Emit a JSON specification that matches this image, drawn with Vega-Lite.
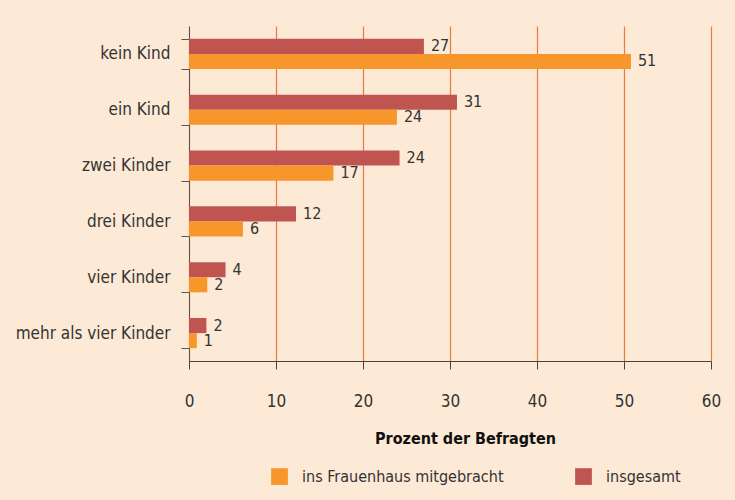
{
  "$schema": "https://vega.github.io/schema/vega-lite/v6.json",
  "width": 522,
  "height": 335,
  "autosize": {"type": "none"},
  "padding": {"left": 189, "top": 26, "right": 24, "bottom": 139},
  "background": "#FCE9D6",
  "config": {
    "font": "DejaVu Sans Condensed",
    "view": {"stroke": null},
    "axis": {"labelFont": "DejaVu Sans Condensed", "titleFont": "DejaVu Sans Condensed"},
    "legend": {"labelFont": "DejaVu Sans Condensed"}
  },
  "data": {
    "values": [
      {"Kinder": "kein Kind", "Serie": "insgesamt", "Wert": 27.0, "Label": "27"},
      {"Kinder": "kein Kind", "Serie": "ins Frauenhaus mitgebracht", "Wert": 50.8, "Label": "51"},
      {"Kinder": "ein Kind", "Serie": "insgesamt", "Wert": 30.8, "Label": "31"},
      {"Kinder": "ein Kind", "Serie": "ins Frauenhaus mitgebracht", "Wert": 23.9, "Label": "24"},
      {"Kinder": "zwei Kinder", "Serie": "insgesamt", "Wert": 24.2, "Label": "24"},
      {"Kinder": "zwei Kinder", "Serie": "ins Frauenhaus mitgebracht", "Wert": 16.6, "Label": "17"},
      {"Kinder": "drei Kinder", "Serie": "insgesamt", "Wert": 12.3, "Label": "12"},
      {"Kinder": "drei Kinder", "Serie": "ins Frauenhaus mitgebracht", "Wert": 6.2, "Label": "6"},
      {"Kinder": "vier Kinder", "Serie": "insgesamt", "Wert": 4.2, "Label": "4"},
      {"Kinder": "vier Kinder", "Serie": "ins Frauenhaus mitgebracht", "Wert": 2.1, "Label": "2"},
      {"Kinder": "mehr als vier Kinder", "Serie": "insgesamt", "Wert": 2.0, "Label": "2"},
      {"Kinder": "mehr als vier Kinder", "Serie": "ins Frauenhaus mitgebracht", "Wert": 0.9, "Label": "1"}
    ]
  },
  "encoding": {
    "y": {
      "field": "Kinder",
      "type": "nominal",
      "sort": ["kein Kind", "ein Kind", "zwei Kinder", "drei Kinder", "vier Kinder", "mehr als vier Kinder"],
      "scale": {"paddingInner": 0.46, "paddingOuter": 0.23},
      "axis": {
        "title": null,
        "tickBand": "extent",
        "tickSize": 8,
        "tickColor": "#555555",
        "domainColor": "#555555",
        "labelFontSize": 17,
        "labelColor": "#333333",
        "labelPadding": 11,
        "labelLimit": 250,
        "grid": false
      }
    },
    "yOffset": {
      "field": "Serie",
      "type": "nominal",
      "sort": ["insgesamt", "ins Frauenhaus mitgebracht"]
    },
    "x": {
      "field": "Wert",
      "type": "quantitative",
      "scale": {"domain": [0, 60], "nice": false},
      "axis": {
        "values": [0, 10, 20, 30, 40, 50, 60],
        "title": "Prozent der Befragten",
        "titleFontSize": 16,
        "titleFontWeight": "bold",
        "titleColor": "#111111",
        "titlePadding": 21,
        "titleX": 276,
        "titleAlign": "center",
        "grid": true,
        "gridColor": "#EC7A3C",
        "gridWidth": 1.2,
        "tickSize": 8,
        "tickColor": "#444444",
        "domainColor": "#444444",
        "labelFontSize": 17,
        "labelColor": "#333333",
        "labelPadding": 24,
        "labelFlush": false
      }
    }
  },
  "layer": [
    {
      "mark": {"type": "bar"},
      "encoding": {
        "color": {
          "field": "Serie",
          "type": "nominal",
          "scale": {"domain": ["ins Frauenhaus mitgebracht", "insgesamt"], "range": ["#F7962B", "#C05450"]},
          "legend": {
            "title": null,
            "orient": "none",
            "direction": "horizontal",
            "legendX": 82,
            "legendY": 442,
            "symbolType": "square",
            "symbolSize": 280,
            "symbolStrokeWidth": 0,
            "labelFontSize": 16,
            "labelColor": "#333333",
            "labelOffset": 14,
            "labelLimit": 300,
            "columnPadding": 71
          }
        }
      }
    },
    {
      "mark": {"type": "text", "align": "left", "dx": 7, "fontSize": 16, "color": "#333333"},
      "encoding": {"text": {"field": "Label"}}
    }
  ]
}
